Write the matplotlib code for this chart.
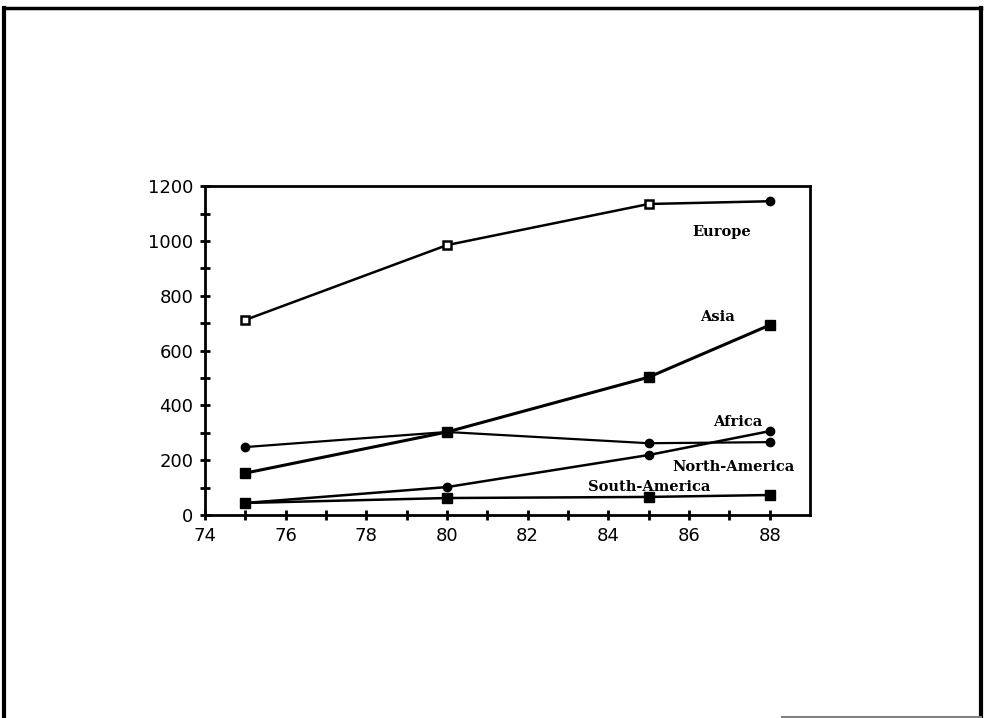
import numpy as np
import matplotlib
matplotlib.use('Agg')
import matplotlib.pyplot as plt
from matplotlib.lines import Line2D

#
# data
#
years = [75, 80, 85, 88]
europe = [712, 985, 1135, 1145]
asia = [153, 303, 503, 693]
africa = [248, 303, 262, 266]
north_america = [44, 102, 219, 306]
south_america = [44, 62, 66, 73]

names = ['Europe', 'Asia', 'Africa', 'North-America', 'South-America']
label_x = [86.8, 86.7, 87.2, 87.1, 85.0]
label_y = [1032, 722, 339, 175, 102]

xticks = [74, 76, 78, 80, 82, 84, 86, 88]
yticks = [0, 200, 400, 600, 800, 1000, 1200]


def main():
    fig = plt.figure(figsize=(9.87, 7.18), dpi=100)
    ax = fig.add_axes([0.2077, 0.2827, 0.613, 0.458])

    # series
    ax.plot(years, europe, color='black', lw=1.8, marker='s', ms=6,
            mfc='white', mec='black', mew=1.8, markevery=[0, 1, 2])
    # last europe point is a filled dot in the original
    ax.plot(years[-1:], europe[-1:], color='black', marker='o', ms=6, lw=0)
    ax.plot(years, asia, color='black', lw=2.2, marker='s', ms=7)
    ax.plot(years, africa, color='black', lw=1.6, marker='o', ms=6)
    ax.plot(years, north_america, color='black', lw=1.8, marker='o', ms=6)
    ax.plot(years, south_america, color='black', lw=1.8, marker='s', ms=7)

    for n, x, y in zip(names, label_x, label_y):
        ax.text(x, y, n, ha='center', va='center', fontsize=10.5,
                family='DejaVu Serif', fontweight='bold', color='black')

    ax.set_xlim(74, 89)
    ax.set_ylim(0, 1200)
    ax.set_xticks(xticks)
    ax.set_xticks(np.arange(75, 89, 1), minor=True)
    ax.set_yticks(yticks)
    ax.set_yticks(np.arange(100, 1200, 200), minor=True)
    ax.tick_params(which='both', direction='inout', length=7, width=2)
    ax.tick_params(labelsize=13, pad=5)
    for s in ax.spines.values():
        s.set_linewidth(2)

    # outer frame of the page
    fig.add_artist(Line2D([0.004, 0.004], [0.0, 0.989], color='black', lw=3,
                          transform=fig.transFigure))
    fig.add_artist(Line2D([0.994, 0.994], [0.0, 0.989], color='black', lw=3,
                          transform=fig.transFigure))
    fig.add_artist(Line2D([0.004, 0.994], [0.989, 0.989], color='black', lw=2.5,
                          transform=fig.transFigure))
    fig.add_artist(Line2D([0.792, 0.994], [0.001, 0.001], color='gray', lw=1.5,
                          transform=fig.transFigure))

    fig.savefig('out.png', dpi=100)


main()
